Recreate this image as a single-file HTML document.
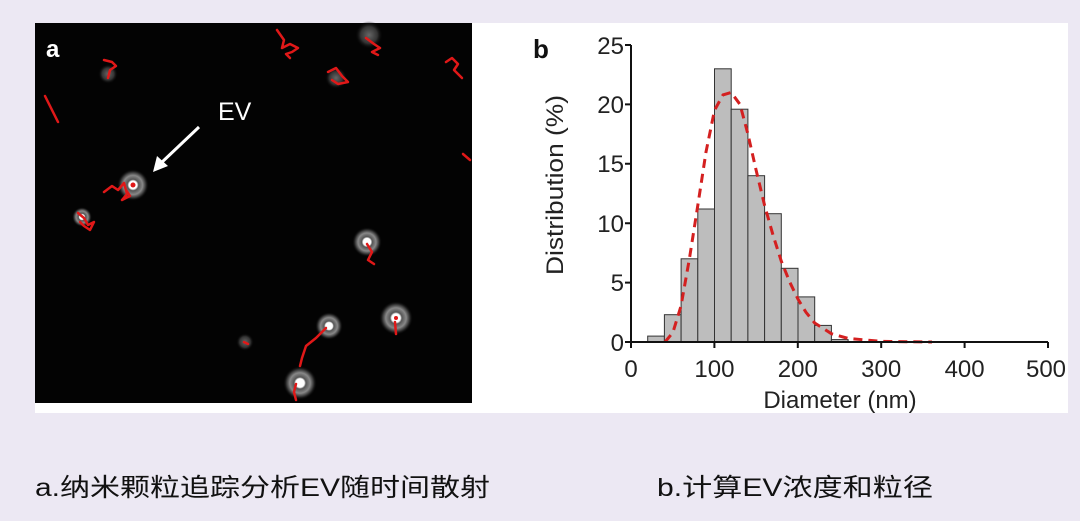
<!DOCTYPE html>
<html><head><meta charset="utf-8"><style>
html,body{margin:0;padding:0;background:#ece8f3;}
svg{display:block}
</style></head><body>
<svg width="1080" height="521" viewBox="0 0 1080 521" xmlns="http://www.w3.org/2000/svg">
<defs>
<radialGradient id="halo"><stop offset="0" stop-color="#fff"/><stop offset="0.25" stop-color="#fff"/><stop offset="0.35" stop-color="#555"/><stop offset="0.6" stop-color="#888"/><stop offset="0.8" stop-color="#333"/><stop offset="1" stop-color="#000" stop-opacity="0"/></radialGradient>
<radialGradient id="halo2"><stop offset="0" stop-color="#666"/><stop offset="0.6" stop-color="#333"/><stop offset="1" stop-color="#000" stop-opacity="0"/></radialGradient>
</defs>
<rect x="0" y="0" width="1080" height="521" fill="#ece8f3"/>
<rect x="35" y="23" width="1033" height="390" fill="#fff"/>
<rect x="35" y="23" width="437" height="380" fill="#030303"/>
<g>
<circle cx="133" cy="185" r="16" fill="url(#halo)"/>
<circle cx="367" cy="242" r="15" fill="url(#halo)"/>
<circle cx="396" cy="318" r="17" fill="url(#halo)"/>
<circle cx="329" cy="326" r="14" fill="url(#halo)"/>
<circle cx="300" cy="383" r="17" fill="url(#halo)"/>
<circle cx="369" cy="35" r="14" fill="url(#halo2)"/>
<circle cx="82" cy="217" r="10" fill="url(#halo)"/>
<circle cx="108" cy="74" r="10" fill="url(#halo2)"/>
<circle cx="336" cy="78" r="11" fill="url(#halo2)"/>
<circle cx="245" cy="342" r="9" fill="url(#halo2)"/>
</g>
<g stroke="#e01818" stroke-width="2.5" fill="none" stroke-linecap="round" stroke-linejoin="round">
<path d="M104 192 L112 186 L118 190 L124 183 L127 194 L122 200 L130 196 L126 190"/>
<path d="M78 213 L84 218 L88 225 L94 222 L90 230 L84 226 L80 222"/>
<path d="M45 96 L52 110 L58 122"/>
<path d="M104 60 L112 62 L116 66 L110 70 L108 78"/>
<path d="M277 30 L284 40 L282 48 L290 44 L298 48 L292 52 L286 54 L290 58"/>
<path d="M328 72 L336 68 L342 76 L348 82 L338 84 L332 80"/>
<path d="M366 38 L374 44 L380 48 L372 52 L378 55"/>
<path d="M446 62 L452 58 L458 64 L454 70 L462 78"/>
<path d="M463 154 L470 160"/>
<path d="M367 244 L372 252 L368 260 L374 264"/>
<path d="M395 322 L396 334"/>
<path d="M326 328 L316 338 L306 346 L302 358 L300 366"/>
<path d="M296 384 L294 392 L296 400"/>
<path d="M244 342 L248 344"/>
</g>
<circle cx="133" cy="185" r="2.5" fill="#e01818"/>
<circle cx="396" cy="318" r="2" fill="#e01818"/>
<text x="46" y="57" font-family="Liberation Sans, sans-serif" font-weight="bold" font-size="24" fill="#fff">a</text>
<text x="218" y="120" font-family="Liberation Sans, sans-serif" font-size="25" fill="#fff">EV</text>
<line x1="199" y1="127" x2="160" y2="164" stroke="#fff" stroke-width="3"/>
<polygon points="153,172 157,156 168,166" fill="#fff"/>

<text x="533" y="58" font-family="Liberation Sans, sans-serif" font-weight="bold" font-size="26" fill="#111">b</text>
<g fill="#bdbdbd" stroke="#333" stroke-width="1">
<rect x="647.7" y="336.1" width="16.7" height="5.9"/>
<rect x="664.4" y="314.7" width="16.7" height="27.3"/>
<rect x="681.1" y="258.8" width="16.7" height="83.2"/>
<rect x="697.8" y="209" width="16.7" height="133"/>
<rect x="714.5" y="68.8" width="16.7" height="273.2"/>
<rect x="731.2" y="109.2" width="16.7" height="232.8"/>
<rect x="747.9" y="175.7" width="16.7" height="166.3"/>
<rect x="764.6" y="213.7" width="16.7" height="128.3"/>
<rect x="781.3" y="268.3" width="16.7" height="73.7"/>
<rect x="798" y="296.9" width="16.7" height="45.1"/>
<rect x="814.7" y="325.4" width="16.7" height="16.6"/>
<rect x="831.4" y="339.6" width="16.7" height="2.4"/>
</g>
<path d="M665 342 L672.9 332.5 L681 306 L689.4 258.8 L697.8 205.4 L706 152 L714.5 110.3 L723 94.9 L731.2 92.5 L740 104.4 L747.9 134 L756 169.7 L764.6 205.4 L773 235 L781.3 261.2 L790 282.6 L798 299.2 L806 312.3 L814.7 323 L831.4 333.7 L848 338.4 L881.5 341.4 L932 342" fill="none" stroke="#d42020" stroke-width="3" stroke-dasharray="9,6"/>
<g stroke="#111" stroke-width="2" fill="none">
<path d="M631 45 V342 H1048"/>
<path d="M625 45 H631 M625 104.4 H631 M625 163.8 H631 M625 223.2 H631 M625 282.6 H631 M625 342 H631"/>
<path d="M631 342 V348 M714.4 342 V348 M797.8 342 V348 M881.2 342 V348 M964.6 342 V348 M1048 342 V348"/>
</g>
<g font-family="Liberation Sans, sans-serif" font-size="24" fill="#222" text-anchor="end">
<text x="624" y="54">25</text><text x="624" y="113">20</text><text x="624" y="172">15</text>
<text x="624" y="232">10</text><text x="624" y="291">5</text><text x="624" y="351">0</text>
</g>
<g font-family="Liberation Sans, sans-serif" font-size="24" fill="#222" text-anchor="middle">
<text x="631" y="377">0</text><text x="714.4" y="377">100</text><text x="797.8" y="377">200</text>
<text x="881.2" y="377">300</text><text x="964.6" y="377">400</text><text x="1046" y="377">500</text>
<text x="840" y="408">Diameter (nm)</text>
</g>
<text transform="translate(563,185) rotate(-90)" font-family="Liberation Sans, sans-serif" font-size="24" fill="#222" text-anchor="middle" textLength="180" lengthAdjust="spacingAndGlyphs">Distribution (%)</text>

<text x="35" y="496" font-family="Liberation Sans, 'Noto Sans CJK SC', sans-serif" font-size="25" fill="#111" textLength="455" lengthAdjust="spacingAndGlyphs">a.纳米颗粒追踪分析EV随时间散射</text>
<text x="657" y="496" font-family="Liberation Sans, 'Noto Sans CJK SC', sans-serif" font-size="25" fill="#111" textLength="276" lengthAdjust="spacingAndGlyphs">b.计算EV浓度和粒径</text>
</svg>
</body></html>
